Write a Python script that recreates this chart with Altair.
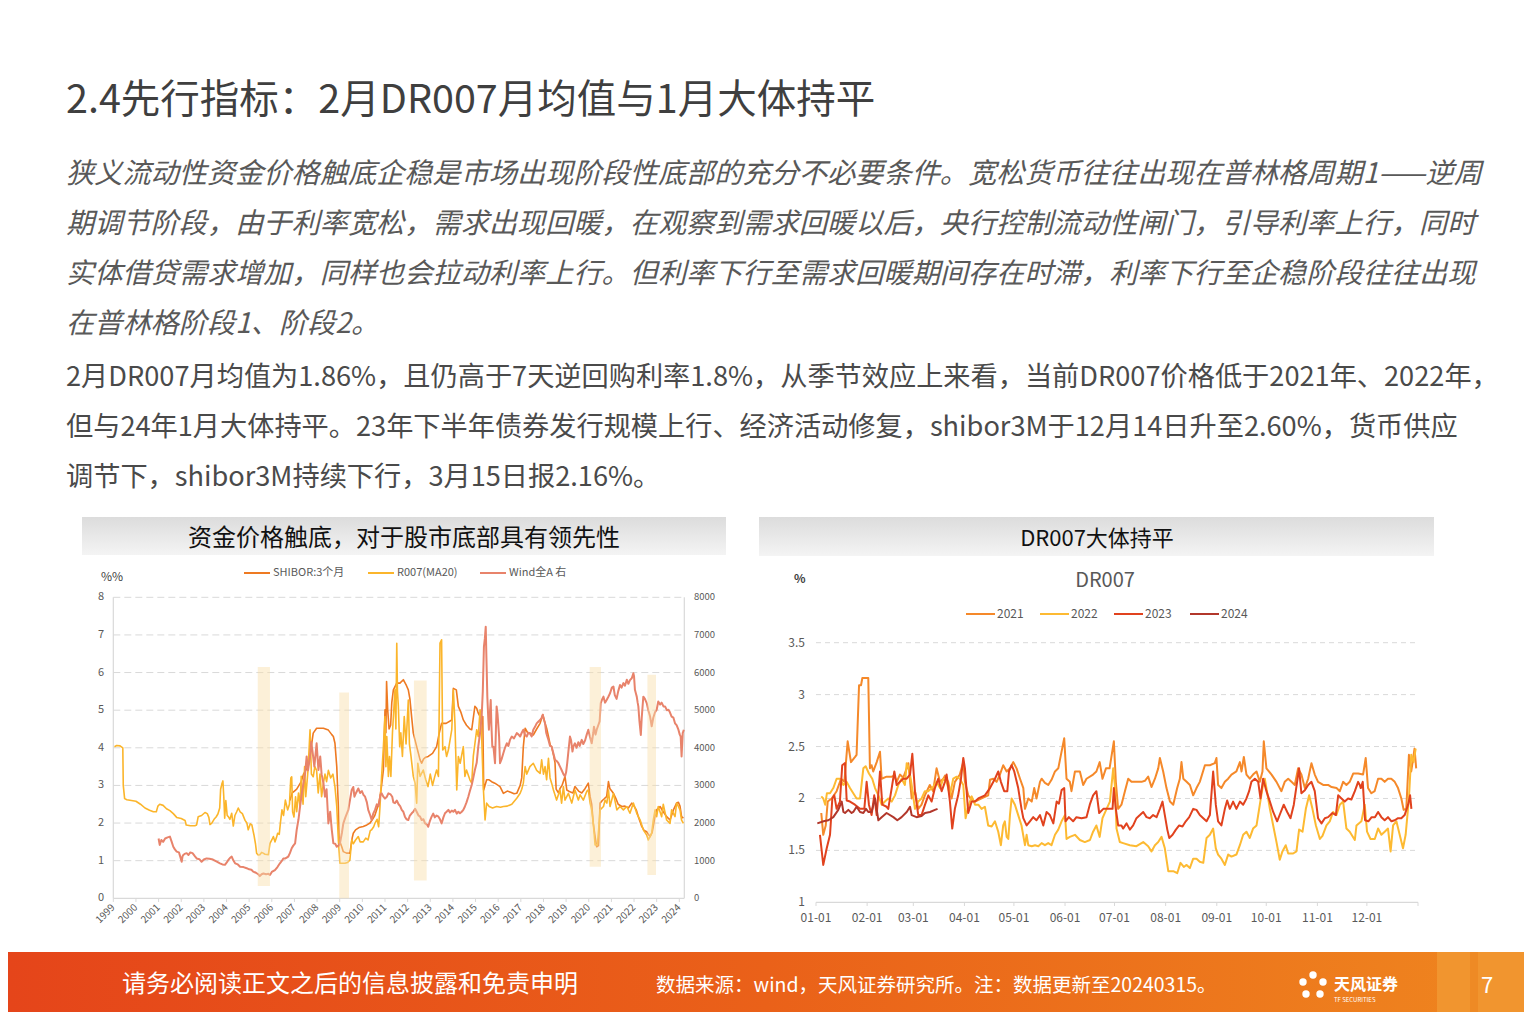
import altair as alt
import pandas as pd

FONT = "Noto Sans CJK SC"
W, H = 1516, 1004
OFF = 8

# ---------------- text ----------------
title_text = "2.4先行指标：2月DR007月均值与1月大体持平"
para1_lines = [
    "狭义流动性资金价格触底企稳是市场出现阶段性底部的充分不必要条件。宽松货币往往出现在普林格周期1——逆周",
    "期调节阶段，由于利率宽松，需求出现回暖，在观察到需求回暖以后，央行控制流动性闸门，引导利率上行，同时",
    "实体借贷需求增加，同样也会拉动利率上行。但利率下行至需求回暖期间存在时滞，利率下行至企稳阶段往往出现",
    "在普林格阶段1、阶段2。",
]
para2_lines = [
    "2月DR007月均值为1.86%，且仍高于7天逆回购利率1.8%，从季节效应上来看，当前DR007价格低于2021年、2022年，",
    "但与24年1月大体持平。23年下半年债券发行规模上行、经济活动修复，shibor3M于12月14日升至2.60%，货币供应",
    "调节下，shibor3M持续下行，3月15日报2.16%。",
]
left_title = "资金价格触底，对于股市底部具有领先性"
right_title = "DR007大体持平"
footer_left = "请务必阅读正文之后的信息披露和免责申明"
footer_src = "数据来源：wind，天风证券研究所。注：数据更新至20240315。"

# ---------------- left chart data ----------------
left_names = ["SHIBOR:3个月", "R007(MA20)", "Wind全A 右"]
year_ticks = list(range(1999, 2025))
pct_ticks = [0, 1, 2, 3, 4, 5, 6, 7, 8]
idx_ticks = [0, 1000, 2000, 3000, 4000, 5000, 6000, 7000, 8000]
shade_start = [2005.38, 2008.98, 2012.28, 2020.04, 2022.59]
shade_end = [2005.92, 2009.41, 2012.84, 2020.54, 2022.97]
shade_top = [6.15, 5.47, 5.79, 6.15, 5.94]
shade_bottom = [0.33, 0.0, 0.47, 0.84, 0.62]

r007 = [(1999.05,4.03),(1999.15,4.06),(1999.3,4.05),(1999.42,4.0),(1999.44,3.0),(1999.5,2.65),(1999.6,2.62),(1999.8,2.6),
(2000.0,2.58),(2000.2,2.5),(2000.4,2.4),(2000.6,2.34),(2000.77,2.3),(2000.9,2.3),(2000.97,2.45),(2001.05,2.5),(2001.2,2.47),
(2001.35,2.38),(2001.5,2.33),(2001.65,2.25),(2001.8,2.15),(2002.0,2.12),(2002.17,2.07),(2002.22,1.95),(2002.4,1.93),(2002.6,1.93),
(2002.68,1.95),(2002.75,2.17),(2002.9,2.2),(2003.05,2.28),(2003.15,2.25),(2003.22,2.15),(2003.27,1.96),(2003.35,2.0),(2003.45,2.1),
(2003.54,2.16),(2003.62,2.24),(2003.7,2.4),(2003.74,2.9),(2003.8,3.05),(2003.84,3.12),(2003.88,2.7),(2003.92,2.13),(2003.97,2.6),
(2004.03,2.2),(2004.08,2.17),(2004.15,2.1),(2004.23,2.26),(2004.3,1.92),(2004.37,2.2),(2004.45,2.3),(2004.52,2.4),(2004.6,2.3),
(2004.7,2.25),(2004.82,2.07),(2004.9,2.0),(2004.96,1.82),(2005.05,1.98),(2005.12,1.95),(2005.21,1.69),(2005.28,1.45),(2005.33,1.2),
(2005.4,1.15),(2005.47,1.16),(2005.55,1.22),(2005.62,1.2),(2005.7,1.17),(2005.85,1.16),(2005.92,1.46),(2006.0,1.55),(2006.07,1.64),
(2006.14,1.5),(2006.2,1.6),(2006.26,1.73),(2006.33,1.7),(2006.38,2.0),(2006.45,2.35),(2006.52,2.2),(2006.6,2.61),(2006.7,2.35),
(2006.78,2.5),(2006.84,3.2),(2006.88,3.23),(2006.92,2.3),(2006.98,2.16),(2007.05,2.7),(2007.1,2.3),(2007.18,2.8),(2007.25,2.44),
(2007.3,3.24),(2007.38,2.5),(2007.45,3.5),(2007.5,2.7),(2007.6,3.4),(2007.69,4.48),(2007.75,3.3),(2007.83,3.23),(2007.9,3.5),
(2007.98,3.4),(2008.05,2.8),(2008.13,3.3),(2008.2,2.7),(2008.28,3.06),(2008.35,3.3),(2008.42,3.1),(2008.5,3.4),(2008.6,3.2),
(2008.7,3.3),(2008.79,2.97),(2008.87,2.44),(2008.94,1.55),(2009.01,0.93),(2009.1,0.93),(2009.23,0.93),(2009.35,0.95),(2009.45,1.02),
(2009.53,1.55),(2009.6,1.45),(2009.7,1.55),(2009.82,1.64),(2009.9,1.5),(2010.04,1.5),(2010.15,1.6),(2010.25,1.55),(2010.35,1.8),
(2010.41,1.82),(2010.5,1.9),(2010.56,2.0),(2010.65,2.1),(2010.72,1.9),(2010.78,2.44),(2010.85,3.24),(2010.93,4.03),(2011.0,4.83),
(2011.04,3.5),(2011.08,4.3),(2011.15,3.24),(2011.2,3.77),(2011.26,3.24),(2011.33,4.4),(2011.44,5.54),(2011.48,4.5),(2011.52,6.78),
(2011.55,5.5),(2011.59,5.1),(2011.65,4.03),(2011.7,4.4),(2011.77,3.77),(2011.85,4.83),(2011.93,4.1),(2012.03,5.27),(2012.08,4.1),
(2012.15,3.77),(2012.25,3.24),(2012.33,3.06),(2012.4,2.53),(2012.45,3.59),(2012.55,3.24),(2012.69,3.41),(2012.8,3.15),(2012.9,2.97),
(2013.0,3.3),(2013.1,3.0),(2013.2,3.24),(2013.28,3.41),(2013.36,3.24),(2013.43,6.78),(2013.5,6.87),(2013.55,3.94),(2013.65,4.03),
(2013.72,3.77),(2013.8,3.94),(2013.95,4.48),(2014.02,5.54),(2014.09,4.65),(2014.17,2.88),(2014.24,3.77),(2014.32,3.59),(2014.46,4.03),
(2014.53,3.24),(2014.6,3.41),(2014.75,3.15),(2014.83,3.06),(2014.9,3.77),(2015.05,4.48),(2015.12,4.3),(2015.2,5.01),(2015.27,4.3),
(2015.34,2.97),(2015.42,2.08),(2015.49,2.53),(2015.6,2.44),(2015.75,2.4),(2015.93,2.44),(2016.1,2.42),(2016.23,2.44),(2016.4,2.45),
(2016.6,2.5),(2016.82,2.66),(2016.97,2.79),(2017.04,2.9),(2017.11,3.06),(2017.19,3.5),(2017.26,3.3),(2017.4,3.5),(2017.55,3.59),
(2017.7,3.4),(2017.85,3.32),(2017.92,3.68),(2018.0,3.3),(2018.07,3.5),(2018.14,3.15),(2018.22,3.72),(2018.29,3.2),(2018.36,3.06),
(2018.44,2.88),(2018.58,2.61),(2018.73,2.88),(2018.8,2.53),(2018.88,2.97),(2018.95,2.61),(2019.1,2.79),(2019.25,2.53),(2019.39,2.88),
(2019.54,2.61),(2019.62,2.75),(2019.76,2.61),(2019.91,2.84),(2019.98,2.88),(2020.06,2.53),(2020.13,2.35),(2020.2,1.99),(2020.28,1.42),
(2020.38,1.42),(2020.46,1.99),(2020.5,2.35),(2020.65,2.44),(2020.72,2.61),(2020.8,2.53),(2020.87,2.88),(2020.94,2.44),(2021.09,2.79),
(2021.24,2.35),(2021.38,2.44),(2021.53,2.35),(2021.68,2.44),(2021.82,2.26),(2021.97,2.53),(2022.12,2.26),(2022.27,2.08),(2022.41,1.82),
(2022.56,1.68),(2022.63,1.55),(2022.78,1.73),(2022.85,2.08),(2022.93,2.35),(2023.0,2.17),(2023.07,2.44),(2023.22,2.17),(2023.29,2.5),
(2023.44,2.08),(2023.59,1.99),(2023.66,2.35),(2023.81,2.17),(2023.88,2.53),(2023.96,2.44),(2024.03,2.35),(2024.1,2.08),(2024.18,1.99)]

shibor = [(2006.8,2.6),(2006.9,2.8),(2007.0,2.85),(2007.1,2.9),(2007.2,3.0),(2007.3,3.1),(2007.4,3.3),(2007.5,3.4),(2007.6,3.5),
(2007.69,3.77),(2007.76,4.1),(2007.83,4.39),(2007.98,4.52),(2008.1,4.52),(2008.28,4.52),(2008.5,4.47),(2008.65,4.35),(2008.72,4.3),
(2008.79,4.12),(2008.87,3.5),(2008.94,2.44),(2008.98,1.55),(2009.09,1.37),(2009.16,1.24),(2009.3,1.2),(2009.45,1.2),(2009.55,1.6),
(2009.6,1.73),(2009.7,1.82),(2009.85,1.88),(2010.04,1.91),(2010.2,1.95),(2010.34,2.0),(2010.45,2.1),(2010.55,2.2),(2010.63,2.35),
(2010.72,2.5),(2010.78,2.7),(2010.85,3.0),(2010.93,3.41),(2011.0,5.01),(2011.04,4.4),(2011.07,5.76),(2011.12,5.0),(2011.18,4.5),
(2011.25,4.6),(2011.3,5.2),(2011.37,5.54),(2011.52,5.72),(2011.66,5.72),(2011.81,5.81),(2011.95,5.65),(2012.03,5.54),(2012.1,5.3),
(2012.18,4.8),(2012.25,4.39),(2012.4,4.03),(2012.55,3.68),(2012.62,3.59),(2012.7,3.7),(2012.8,3.75),(2012.91,3.77),(2013.1,3.85),
(2013.28,4.03),(2013.4,4.4),(2013.5,4.65),(2013.7,4.65),(2013.95,4.74),(2014.02,5.58),(2014.15,5.54),(2014.24,5.1),(2014.35,4.95),
(2014.46,4.74),(2014.6,4.6),(2014.75,4.5),(2014.83,4.48),(2014.97,5.1),(2015.05,5.05),(2015.12,4.92),(2015.2,4.83),(2015.32,4.83),
(2015.36,2.88),(2015.49,3.15),(2015.6,3.15),(2015.71,3.1),(2015.85,3.06),(2016.0,3.0),(2016.08,2.97),(2016.23,2.79),(2016.4,2.85),
(2016.55,2.82),(2016.7,2.78),(2016.82,2.79),(2016.97,3.0),(2017.04,3.2),(2017.11,4.03),(2017.19,4.52),(2017.3,4.4),(2017.41,4.39),
(2017.55,4.34),(2017.7,4.5),(2017.85,4.65),(2017.97,4.88),(2018.07,4.65),(2018.14,4.52),(2018.22,4.3),(2018.3,4.07),(2018.36,4.03),
(2018.44,3.81),(2018.51,3.6),(2018.56,2.9),(2018.66,2.8),(2018.73,2.92),(2018.82,3.0),(2018.95,3.24),(2019.03,2.88),(2019.17,2.83),
(2019.3,2.8),(2019.39,2.97),(2019.55,2.85),(2019.69,2.8),(2019.84,2.92),(2019.98,3.06),(2020.06,2.7),(2020.13,2.5),(2020.2,1.99),
(2020.28,1.64),(2020.35,1.37),(2020.43,1.4),(2020.5,2.53),(2020.6,2.6),(2020.71,2.66),(2020.79,2.7),(2020.87,3.1),(2020.93,2.92),
(2021.09,2.79),(2021.2,2.65),(2021.3,2.5),(2021.46,2.44),(2021.6,2.45),(2021.75,2.4),(2021.9,2.53),(2022.0,2.45),(2022.1,2.35),
(2022.19,2.17),(2022.34,1.91),(2022.45,1.8),(2022.56,1.77),(2022.63,1.7),(2022.71,1.64),(2022.8,1.75),(2022.85,1.91),(2022.93,2.2),
(2023.0,2.35),(2023.15,2.44),(2023.29,2.3),(2023.44,2.17),(2023.59,2.08),(2023.74,2.35),(2023.88,2.53),(2023.96,2.55),(2024.03,2.45),
(2024.1,2.17),(2024.18,2.13)]

wind_a = [(2001.0,1590),(2001.05,1420),(2001.12,1550),(2001.2,1500),(2001.29,1590),(2001.4,1620),(2001.5,1640),(2001.58,1500),
(2001.65,1370),(2001.72,1300),(2001.8,1240),(2001.9,1220),(2001.96,1100),(2002.02,970),(2002.06,1120),(2002.09,1150),(2002.15,1180),
(2002.24,1200),(2002.32,1150),(2002.4,1220),(2002.5,1200),(2002.6,1120),(2002.68,1060),(2002.8,1040),(2002.9,970),(2003.0,1030),
(2003.12,1060),(2003.25,1050),(2003.4,1030),(2003.55,980),(2003.71,930),(2003.82,900),(2003.93,890),(2004.02,960),(2004.08,1020),
(2004.15,1070),(2004.23,1110),(2004.3,1010),(2004.38,930),(2004.5,900),(2004.6,840),(2004.75,830),(2004.89,800),(2005.0,770),
(2005.1,760),(2005.18,710),(2005.3,680),(2005.4,640),(2005.47,590),(2005.55,640),(2005.63,660),(2005.75,640),(2005.85,650),
(2005.92,620),(2006.0,700),(2006.14,750),(2006.25,830),(2006.36,930),(2006.45,1000),(2006.51,1060),(2006.6,1060),(2006.73,1110),
(2006.8,1200),(2006.88,1330),(2006.95,1400),(2007.03,1460),(2007.1,1820),(2007.18,2100),(2007.25,2440),(2007.33,2800),(2007.4,3060),
(2007.47,3300),(2007.54,3770),(2007.6,3400),(2007.69,3770),(2007.74,4160),(2007.8,3900),(2007.88,3500),(2007.98,4120),(2008.06,3410),
(2008.14,3770),(2008.2,3300),(2008.28,3060),(2008.35,2700),(2008.42,2900),(2008.5,1990),(2008.58,2300),(2008.65,1820),(2008.72,1460),
(2008.8,1450),(2008.87,1370),(2008.95,1400),(2009.01,1460),(2009.1,1750),(2009.16,1990),(2009.25,2150),(2009.38,2350),(2009.45,2600),
(2009.53,2880),(2009.6,2960),(2009.65,2700),(2009.72,2800),(2009.82,2920),(2009.9,2800),(2009.98,2850),(2010.05,2750),(2010.12,2700),
(2010.2,2550),(2010.26,2350),(2010.35,2200),(2010.41,2080),(2010.48,2250),(2010.56,2350),(2010.64,2500),(2010.72,2450),(2010.8,2750),
(2010.85,2790),(2010.93,2700),(2011.0,2650),(2011.08,2700),(2011.15,2790),(2011.25,2760),(2011.32,2700),(2011.37,2550),(2011.44,2530),
(2011.52,2600),(2011.6,2500),(2011.67,2450),(2011.74,2350),(2011.81,2300),(2011.88,2170),(2011.95,2100),(2012.03,2080),(2012.1,2200),
(2012.18,2260),(2012.25,2300),(2012.33,2380),(2012.4,2300),(2012.48,2200),(2012.55,2170),(2012.62,2080),(2012.7,2100),(2012.77,1990),
(2012.85,1960),(2012.91,1900),(2012.98,2050),(2013.06,2170),(2013.13,2250),(2013.2,2150),(2013.28,2200),(2013.36,2170),(2013.43,2100),
(2013.5,1990),(2013.58,2150),(2013.65,2260),(2013.72,2300),(2013.8,2350),(2013.87,2280),(2013.95,2330),(2014.02,2300),(2014.09,2350),
(2014.17,2250),(2014.24,2300),(2014.31,2260),(2014.39,2300),(2014.46,2350),(2014.53,2440),(2014.6,2550),(2014.68,2700),(2014.75,2850),
(2014.83,3010),(2014.9,3200),(2014.97,3410),(2015.05,3600),(2015.12,4030),(2015.2,4400),(2015.27,4830),(2015.32,5500),(2015.37,6690),
(2015.41,6900),(2015.45,7220),(2015.48,6400),(2015.52,5360),(2015.56,4800),(2015.59,4480),(2015.63,4900),(2015.67,5270),(2015.7,4600),
(2015.74,4030),(2015.79,4030),(2015.86,3590),(2015.9,4500),(2015.93,5100),(2015.97,4900),(2016.0,4650),(2016.04,4300),(2016.08,3590),
(2016.15,3700),(2016.23,3860),(2016.3,4000),(2016.38,4120),(2016.45,4050),(2016.52,4210),(2016.6,4300),(2016.7,4250),(2016.82,4390),
(2016.9,4350),(2016.97,4300),(2017.04,4400),(2017.11,4480),(2017.18,4350),(2017.26,4300),(2017.33,4400),(2017.4,4380),(2017.48,4300),
(2017.55,4480),(2017.62,4550),(2017.7,4650),(2017.78,4700),(2017.85,4740),(2017.92,4800),(2017.97,4880),(2018.02,4750),(2018.07,4650),
(2018.12,4400),(2018.17,4300),(2018.22,4210),(2018.29,4050),(2018.36,4030),(2018.44,3850),(2018.51,3680),(2018.58,3650),(2018.66,3590),
(2018.73,3500),(2018.8,3410),(2018.88,3300),(2018.95,3240),(2019.0,3350),(2019.05,3600),(2019.1,3900),(2019.17,4300),(2019.22,4200),
(2019.28,3900),(2019.33,4050),(2019.39,4120),(2019.46,4000),(2019.54,4150),(2019.6,4050),(2019.69,4210),(2019.76,4100),(2019.84,4200),
(2019.91,4350),(2019.98,4480),(2020.05,4300),(2020.13,4120),(2020.2,4400),(2020.23,4560),(2020.3,4350),(2020.35,4480),(2020.42,4600),
(2020.48,4700),(2020.53,5190),(2020.6,5300),(2020.65,5360),(2020.72,5200),(2020.79,5270),(2020.86,5350),(2020.94,5450),(2021.02,5600),
(2021.09,5630),(2021.15,5400),(2021.23,5300),(2021.3,5500),(2021.38,5670),(2021.45,5600),(2021.53,5720),(2021.6,5650),(2021.68,5810),
(2021.75,5700),(2021.82,5800),(2021.9,5850),(2021.97,5980),(2022.0,5900),(2022.04,5540),(2022.08,5450),(2022.12,5360),(2022.16,5200),
(2022.19,5100),(2022.24,4700),(2022.3,4340),(2022.34,4800),(2022.41,5360),(2022.48,5300),(2022.56,5190),(2022.63,5000),(2022.71,4830),
(2022.78,4570),(2022.85,4800),(2022.93,4950),(2023.0,5010),(2023.07,5230),(2023.15,5150),(2023.22,5200),(2023.3,5100),(2023.37,5100),
(2023.45,5000),(2023.52,5010),(2023.58,4950),(2023.66,4830),(2023.74,4800),(2023.81,4650),(2023.88,4600),(2023.96,4480),(2024.02,4350),
(2024.06,4300),(2024.1,3770),(2024.15,4390),(2024.2,4480)]

# ---------------- right chart data (day of year, DR007 %) ----------------
dr_years = ["2021", "2022", "2023", "2024"]
month_days = [0, 31, 59, 90, 120, 151, 181, 212, 243, 273, 304, 334]
month_labels = ["01-01", "02-01", "03-01", "04-01", "05-01", "06-01", "07-01", "08-01", "09-01", "10-01", "11-01", "12-01"]
dr_ticks = [1, 1.5, 2, 2.5, 3, 3.5]
dr_tick_labels = ["1", "1.5", "2", "2.5", "3", "3.5"]

dr2021 = [(3.2,1.86),(4.4,1.65),(5.9,1.74),(7.1,1.97),(9.5,2.0),(12.5,2.07),(15.2,2.19),(17.2,2.16),(19.2,2.55),(21.2,2.35),
(23.7,2.40),(24.6,2.42),(26.1,3.09),(27.3,3.09),(28.1,3.16),(31.7,3.16),(32.7,2.29),(33.7,2.32),(34.7,2.26),(36.8,2.35),(38.8,2.45),
(39.8,2.19),(42.8,2.21),(45.9,2.21),(47.5,2.22),(48.9,2.16),(50.9,2.23),(52.9,2.2),(55,2.29),(56,2.34),(58,2.0),(60,2.07),(62,1.9),
(64,1.94),(66,2.03),(69,2.13),(71,2.07),(73.1,2.29),(75.2,2.16),(77.2,2.19),(78.2,2.22),(80.2,2.16),(82.2,2.0),(84.2,2.16),(87.2,2.23),
(89.3,2.35),(90.3,2.16),(92.3,2.03),(94.4,1.99),(96.4,1.97),(100.4,2.0),(104.4,2.03),(105.5,2.18),(107.5,2.19),(109.5,2.16),(111.5,2.23),
(113.5,2.32),(115.6,2.26),(117.6,2.29),(119.6,2.35),(121.6,2.29),(123.7,2.19),(125.7,2.1),(126.7,1.9),(128.7,2.0),(130.8,1.97),
(132.3,2.1),(133.7,2.0),(135.8,2.16),(136.8,2.19),(138.8,2.15),(140.8,2.13),(142.8,2.18),(144.9,2.26),(146.9,2.29),(148.5,2.42),
(150.5,2.58),(151.9,2.19),(153.9,2.16),(154.9,2.07),(157,2.26),(160,2.26),(162,2.13),(164,2.19),(168,2.23),(170,2.26),(172,2.35),
(173.7,2.19),(175.8,2.29),(178,2.29),(179,2.39),(180.6,2.55),(181.8,2.16),(183.2,1.9),(185.2,1.94),(187.3,2.07),(189.3,2.19),
(191.3,2.16),(194.3,2.16),(197.4,2.16),(199.4,2.17),(201.4,2.21),(203.4,2.11),(205.5,2.19),(207.5,2.29),(208.5,2.39),(210.5,2.26),
(212.5,2.1),(214.6,1.97),(216.6,1.94),(219,2.1),(220.6,2.19),(221.6,2.35),(222.7,2.19),(224.7,2.16),(226.7,2.13),(228.7,2.03),
(230.7,2.1),(232.7,2.16),(235.8,2.32),(238.8,2.32),(241.8,2.34),(242.8,2.39),(243.8,2.13),(245.8,2.1),(247.9,2.16),(249.9,2.19),
(251.9,2.23),(254.9,2.26),(257,2.35),(258,2.26),(259.4,2.40),(261,2.23),(263,2.19),(265,2.23),(267.1,2.26),(269.1,2.16),(270.7,2.26),
(271.5,2.55),(273.1,2.29),(276.2,2.23),(279.2,2.16),(282.2,2.07),(284.2,2.16),(286.3,2.19),(288.3,2.16),(290.3,2.13),(292.3,2.29),
(294.3,2.23),(296.4,2.1),(298.4,2.19),(300.4,2.34),(302.4,2.23),(304.4,2.16),(307.5,2.13),(310.5,2.13),(312.6,2.11),(315.6,2.1),
(317.6,2.07),(319.6,2.16),(321.6,2.13),(323.6,2.16),(325.7,2.24),(328.7,2.24),(331.7,2.23),(333.3,2.39),(334.7,2.1),(336.7,2.05),
(338.7,2.07),(340.8,2.19),(342.8,2.19),(344.8,2.16),(346.8,2.19),(348.8,2.19),(350.9,2.16),(352.9,2.1),(354.9,2.0),(356.3,1.89),
(357.9,1.9),(359.5,2.42),(360.9,2.26),(362.9,2.48),(363.9,2.29)]

dr2022 = [(3.2,2.02),(4.4,2.0),(5.6,1.94),(6.6,2.05),(8.5,2.05),(10.5,2.1),(12.5,2.19),(14.5,2.19),(16.6,2.13),(18.6,2.16),(20.6,2.1),
(22.6,2.05),(24.6,2.0),(26.7,2.0),(28.7,2.29),(30.1,2.31),(32.1,2.24),(34.1,2.19),(35.8,2.1),(37.8,2.03),(39.8,1.94),(41.8,1.97),
(43.8,2.0),(45.9,1.97),(47.9,2.03),(49.9,2.13),(51.9,2.19),(53.9,2.13),(55,2.34),(56.4,2.29),(58,2.13),(60,1.9),(62,1.97),(64,2.0),
(66,2.07),(68,2.07),(71,2.11),(73,2.16),(75.2,2.1),(77.2,2.19),(79.2,2.16),(81.2,2.03),(83.2,2.19),(85.3,2.21),(87.2,2.19),(89.3,2.13),
(90.7,1.81),(91.9,1.9),(94.4,2.02),(96.4,1.94),(98.4,1.94),(100.4,1.9),(102.4,1.92),(104.4,1.74),(106.5,1.73),(108.5,1.78),(110.5,1.68),
(112.1,1.55),(113.5,1.74),(114.5,1.78),(115.6,1.63),(116.6,1.61),(117.6,1.84),(118.6,2.0),(120.6,1.94),(122.6,1.84),(124.6,1.74),
(126.7,1.55),(127.7,1.65),(128.7,1.55),(130.8,1.54),(132.8,1.55),(134.8,1.54),(136.8,1.57),(138.8,1.55),(140.8,1.57),(142.8,1.55),
(144.9,1.65),(146.9,1.7),(148.9,1.78),(151,1.84),(151.9,1.61),(153.9,1.63),(157,1.65),(160,1.6),(163,1.58),(166.1,1.6),(168,1.68),
(170,1.74),(172,1.63),(173.7,1.81),(176.2,1.9),(178.2,1.97),(180.2,2.29),(181.2,2.13),(182.2,1.71),(184.2,1.58),(186.2,1.57),
(190.3,1.55),(194.3,1.54),(198.4,1.58),(201.4,1.54),(203.4,1.49),(205.5,1.55),(207.5,1.58),(209.5,1.63),(211.5,1.52),(213.6,1.3),
(216.6,1.3),(219,1.28),(221,1.38),(223,1.34),(224.7,1.36),(226.7,1.33),(228.7,1.42),(230.7,1.42),(232.7,1.39),(234.8,1.38),(236.8,1.62),
(238.8,1.65),(240.8,1.71),(242.4,1.52),(243.8,1.46),(245.8,1.42),(247.9,1.36),(249.9,1.46),(251.9,1.44),(254.9,1.46),(257,1.55),
(259,1.65),(261,1.68),(263,1.62),(265,1.71),(267.1,1.74),(269.1,1.94),(270.7,2.1),(272.1,2.19),(273.1,2.1),(275.2,1.9),(277.2,1.74),
(279.2,1.58),(281.2,1.41),(282.8,1.49),(284.8,1.55),(286.3,1.47),(289.3,1.47),(291.3,1.49),(292.9,1.7),(295,1.68),(297,1.9),(299,2.03),
(301,1.9),(303.1,1.74),(305.5,1.61),(307.1,1.64),(309.5,1.74),(311.5,1.78),(313.5,1.87),(315.5,1.84),(317.6,1.94),(319.6,1.97),
(321.6,1.71),(323.6,1.68),(326.7,1.6),(327.7,1.74),(330.7,1.78),(332.7,1.94),(334.1,1.68),(336.2,1.61),(338.8,1.61),(340.8,1.71),
(342.8,1.65),(344.8,1.68),(346.8,1.71),(348.4,1.49),(349.9,1.74),(351.9,1.78),(353.9,1.65),(355.9,1.52),(357.5,1.65),(359.5,2.0),
(360.9,2.42),(362.3,2.35),(363.6,2.48)]

dr2023 = [(2.4,1.65),(4.4,1.36),(6.5,1.52),(8.5,1.65),(9.9,2.0),(11.1,2.03),(12.5,1.9),(14.5,1.97),(15.9,2.32),(17.6,2.34),(18.6,1.98),
(20.6,1.97),(23.6,1.94),(26.7,1.9),(29.3,1.9),(30.7,2.16),(32.1,1.94),(33.7,1.84),(35.3,2.03),(36.8,1.84),(38.8,2.26),(40.2,1.94),
(42.8,1.92),(43.8,1.9),(45.9,2.1),(47.5,2.26),(48.9,2.13),(50.9,2.16),(52.9,2.19),(55,2.19),(57,2.23),(58.4,2.43),(60,2.07),(62,1.84),
(64,1.84),(66.1,1.94),(68.1,2.03),(70.1,1.97),(72.1,2.1),(74.1,2.19),(76.2,2.07),(78.2,2.16),(79.2,2.23),(81.2,1.97),(82.6,1.71),
(84.2,1.9),(86.2,2.03),(87.9,2.19),(89.3,2.39),(90.3,2.29),(92.3,1.86),(94.4,1.97),(96.4,1.97),(98.4,2.0),(102.4,2.03),(105.5,2.1),
(108.5,2.19),(110.5,2.26),(112.1,2.16),(114.1,2.07),(116,2.07),(117,2.26),(118.6,2.32),(120.2,2.26),(122.6,2.1),(124.6,1.9),(125.7,1.81),
(127.7,1.74),(129.7,1.78),(131.7,1.82),(133.7,1.79),(135.8,1.84),(137.8,1.74),(139.8,1.87),(141.8,1.84),(143.9,1.76),(145.9,1.97),
(147.3,1.95),(148.9,2.08),(150.5,2.1),(151.3,1.78),(153.3,1.82),(155.9,1.78),(157.9,1.82),(161,1.81),(164,1.82),(166,1.94),(168,2.03),
(170,2.07),(171.7,1.86),(174.2,1.9),(176.2,1.9),(178.2,1.9),(179.8,1.9),(180.6,2.1),(181.8,1.9),(183.2,1.74),(185.2,1.74),(186.2,1.71),
(188.3,1.76),(190.3,1.7),(192.3,1.74),(194.3,1.81),(196.4,1.84),(198.4,1.87),(200.4,1.82),(202.4,1.81),(204.4,1.84),(206.5,1.82),
(208.5,1.9),(210.1,1.97),(211.5,1.84),(213,1.7),(214.2,1.62),(216.2,1.65),(218.2,1.7),(220.2,1.74),(222.2,1.73),(224.2,1.78),(226.3,1.82),
(228.7,1.9),(230.7,1.89),(232.7,1.84),(234.8,1.81),(236.8,1.78),(238.8,1.84),(240.8,2.26),(242.4,1.94),(243.8,1.78),(245.8,1.74),
(247.9,1.9),(249.3,1.98),(250.9,1.9),(252.9,1.97),(254.9,1.9),(257,1.97),(259,1.94),(261,2.0),(262.6,2.07),(264,2.16),(266.1,2.19),
(268.1,2.16),(269.5,2.0),(271.1,2.19),(273.1,2.07),(275.2,1.97),(277.2,1.87),(279.6,1.78),(281.6,1.86),(283.6,1.94),(285.7,1.87),
(287.7,1.81),(289.7,1.94),(291.7,2.16),(292.9,2.29),(294.3,2.05),(296.4,2.08),(298.4,2.13),(300.4,2.16),(302.4,2.07),(304.4,1.81),
(306.5,1.76),(308.5,1.81),(310.5,1.82),(313.1,1.86),(315.2,1.84),(316.6,2.03),(318.6,2.0),(320.6,1.97),(322.6,2.0),(324.6,1.99),
(326.7,2.07),(328.7,2.16),(329.7,2.13),(330.3,2.1),(331.5,2.16),(332.9,1.79),(334.9,1.78),(336.9,1.82),(338.9,1.82),(340.8,1.87),
(342.8,1.82),(344.8,1.79),(346.8,1.82),(348.9,1.78),(350.9,1.79),(352.9,1.81),(354.9,1.81),(356.9,1.84),(359,1.94),(360.2,2.03),(361,1.9)]

dr2024 = [(0.8,1.76),(4.6,1.78),(7.5,1.79),(10.5,1.82),(13.5,1.89),(15.6,1.97),(16.6,1.87),(17.6,1.86),(19.6,1.89),(21.6,1.86),
(22.6,1.87),(24.6,1.92),(26.7,1.87),(28.7,1.86),(30.3,1.9),(31.7,1.87),(33.7,1.87),(35.8,2.0),(37.8,1.79),(39.8,1.82),(42.8,1.86),
(46.9,1.82),(49.3,1.79),(51.9,1.82),(55,1.87),(57,1.92),(58,1.84),(61,1.82),(64,1.83),(66.1,1.86),(69.1,1.87),(72.1,1.89),(73.7,1.9)]

# ---------------- colors ----------------
C_SHIBOR = "#EE7A22"
C_R007 = "#FBB52B"
C_WIND = "#E8836B"
C_DR = ["#F5892A", "#FDBA32", "#E1421E", "#B2372B"]
GRID = "#D9D9D9"
LAB = "#595959"

# ---------------- helpers ----------------
def one():
    return pd.DataFrame({"k": [0]})

def T(s, x, y, size, color=LAB, align="left", baseline="middle", weight="normal", style="normal", angle=0):
    return alt.Chart(pd.DataFrame({"t": [s]})).mark_text(
        align=align, baseline=baseline, fontSize=size, color=color, font=FONT,
        fontWeight=weight, fontStyle=style, angle=angle
    ).encode(x=alt.value(x - OFF), y=alt.value(y - OFF), text="t:N")

def RECT(x1, x2, y1, y2, fill, opacity=1.0):
    return alt.Chart(one()).mark_rect(fill=fill, opacity=opacity).encode(
        x=alt.value(x1 - OFF), x2=alt.value(x2 - OFF), y=alt.value(y1 - OFF), y2=alt.value(y2 - OFF))

def SEG(x1, x2, y1, y2, color, width=1.0):
    return alt.Chart(one()).mark_rule(color=color, strokeWidth=width).encode(
        x=alt.value(x1 - OFF), x2=alt.value(x2 - OFF), y=alt.value(y1 - OFF), y2=alt.value(y2 - OFF))

def pairs_df(pairs):
    return pd.DataFrame({"t": [p[0] for p in pairs], "v": [p[1] for p in pairs]})

def line(pairs, color, xs, ys, width):
    return alt.Chart(pairs_df(pairs)).mark_line(color=color, strokeWidth=width, strokeJoin="round").encode(
        x=alt.X("t:Q", scale=xs, axis=None), y=alt.Y("v:Q", scale=ys, axis=None))

layers = []

# ---------------- header text ----------------
layers.append(T(title_text, 66, 101, 39.5, color="#3F3F3F"))
for i, s in enumerate(para1_lines):
    layers.append(T(s, 66, 175 + 50 * i, 28.2, color="#595959", style="italic"))
for i, s in enumerate(para2_lines):
    layers.append(T(s, 66, 378 + 50 * i, 27.2, color="#4A4A4A"))

# ---------------- title bars ----------------
bar_grad = alt.LinearGradient(gradient="linear",
    stops=[alt.GradientStop(color="#DCDCDC", offset=0), alt.GradientStop(color="#F4F4F4", offset=1)],
    x1=0, x2=0, y1=0, y2=1)
layers.append(RECT(82, 726, 517, 555, bar_grad))
layers.append(RECT(759, 1434, 517, 556, bar_grad))
layers.append(T(left_title, 404, 539, 24, color="#111111", align="center"))
layers.append(T(right_title, 1097, 539, 22, color="#111111", align="center"))

# ---------------- left chart ----------------
xL = alt.Scale(domain=[1999, 2024.22], range=[113.3 - OFF, 684.3 - OFF], nice=False, zero=False)
yL = alt.Scale(domain=[0, 8], range=[898.3 - OFF, 597.3 - OFF], nice=False, zero=False)
yLR = alt.Scale(domain=[0, 8000], range=[898.3 - OFF, 597.3 - OFF], nice=False, zero=False)

grid_df = pd.DataFrame({"v": pct_ticks[1:]})
layers.append(alt.Chart(grid_df).mark_rule(color=GRID, strokeDash=[7, 4], strokeWidth=1).encode(
    y=alt.Y("v:Q", scale=yL, axis=None), x=alt.value(113.3 - OFF), x2=alt.value(684.3 - OFF)))
layers.append(SEG(113.3, 684.3, 898.3, 898.3, GRID, 1.2))
layers.append(SEG(113.3, 113.3, 597.3, 898.3, GRID, 1.2))
layers.append(SEG(684.3, 684.3, 597.3, 898.3, GRID, 1.2))
yt_df = pd.DataFrame({"yr": year_ticks})
layers.append(alt.Chart(yt_df).mark_rule(color=GRID, strokeWidth=1).encode(
    x=alt.X("yr:Q", scale=xL, axis=None), y=alt.value(898.3 - OFF), y2=alt.value(902 - OFF)))
layers.append(alt.Chart(pd.DataFrame({"v": pct_ticks, "lab": [str(v) for v in pct_ticks]})).mark_text(
    align="right", baseline="middle", fontSize=11, color=LAB, font=FONT).encode(
    y=alt.Y("v:Q", scale=yL, axis=None), x=alt.value(104 - OFF), text="lab:N"))
layers.append(alt.Chart(pd.DataFrame({"v": idx_ticks, "lab": [str(v) for v in idx_ticks]})).mark_text(
    align="left", baseline="middle", fontSize=9.5, color=LAB, font=FONT).encode(
    y=alt.Y("v:Q", scale=yLR, axis=None), x=alt.value(694 - OFF), text="lab:N"))
layers.append(alt.Chart(pd.DataFrame({"yr": year_ticks, "lab": [str(y) for y in year_ticks]})).mark_text(
    align="right", baseline="middle", fontSize=10, color=LAB, font=FONT, angle=315).encode(
    x=alt.X("yr:Q", scale=xL, axis=None), y=alt.value(906 - OFF), text="lab:N"))

layers.append(line(shibor, C_SHIBOR, xL, yL, 1.6))
layers.append(line(r007, C_R007, xL, yL, 1.6))
layers.append(line(wind_a, C_WIND, xL, yLR, 2.0))

shade_df = pd.DataFrame({"s": shade_start, "e": shade_end, "top": shade_top, "bot": shade_bottom})
layers.append(alt.Chart(shade_df).mark_rect(color="#F8DEA8", opacity=0.45).encode(
    x=alt.X("s:Q", scale=xL, axis=None), x2="e:Q",
    y=alt.Y("top:Q", scale=yL, axis=None), y2="bot:Q"))

# legend (left)
layers.append(T("%%", 101, 577, 12, color="#404040"))
leg_x = [244, 368, 480]
for name, col, lx in zip(left_names, [C_SHIBOR, C_R007, C_WIND], leg_x):
    layers.append(SEG(lx, lx + 26, 573, 573, col, 2))
    layers.append(T(name, lx + 29, 573, 11, color=LAB))

# ---------------- right chart ----------------
xR = alt.Scale(domain=[0, 365], range=[816 - OFF, 1418 - OFF], nice=False, zero=False)
yR = alt.Scale(domain=[1, 3.5], range=[902.3 - OFF, 642.7 - OFF], nice=False, zero=False)

layers.append(alt.Chart(pd.DataFrame({"v": dr_ticks[1:]})).mark_rule(color=GRID, strokeDash=[5, 4], strokeWidth=1).encode(
    y=alt.Y("v:Q", scale=yR, axis=None), x=alt.value(816 - OFF), x2=alt.value(1416 - OFF)))
layers.append(SEG(816, 1418, 902.3, 902.3, GRID, 1.2))
layers.append(alt.Chart(pd.DataFrame({"d": month_days + [365]})).mark_rule(color=GRID, strokeWidth=1).encode(
    x=alt.X("d:Q", scale=xR, axis=None), y=alt.value(902.3 - OFF), y2=alt.value(906 - OFF)))
layers.append(alt.Chart(pd.DataFrame({"d": month_days, "lab": month_labels})).mark_text(
    align="center", baseline="middle", fontSize=12, color=LAB, font=FONT).encode(
    x=alt.X("d:Q", scale=xR, axis=None), y=alt.value(918 - OFF), text="lab:N"))
layers.append(alt.Chart(pd.DataFrame({"v": dr_ticks, "lab": dr_tick_labels})).mark_text(
    align="right", baseline="middle", fontSize=12, color=LAB, font=FONT).encode(
    y=alt.Y("v:Q", scale=yR, axis=None), x=alt.value(805 - OFF), text="lab:N"))

for pairs, col in zip([dr2021, dr2022, dr2023, dr2024], C_DR):
    layers.append(line(pairs, col, xR, yR, 2.0))

layers.append(T("%", 794, 579, 12, color="#404040", weight="bold"))
layers.append(T("DR007", 1105, 581, 20, color="#595959", align="center"))
leg_rx = [966, 1040, 1114, 1190]
for name, col, lx in zip(dr_years, C_DR, leg_rx):
    layers.append(SEG(lx, lx + 29, 614, 614, col, 2))
    layers.append(T(name, lx + 31, 614, 12, color=LAB))

# ---------------- footer ----------------
foot_grad = alt.LinearGradient(gradient="linear",
    stops=[alt.GradientStop(color="#E5451A", offset=0), alt.GradientStop(color="#EA6119", offset=0.5),
           alt.GradientStop(color="#EF861F", offset=1)],
    x1=0, x2=1, y1=0, y2=0)
layers.append(RECT(8, 1524, 952, 1012, foot_grad))
layers.append(RECT(1437, 1524, 952, 1012, "#F1952F"))
layers.append(RECT(1470, 1478, 952, 1012, "#EE8A25"))
layers.append(T(footer_left, 122, 985, 24, color="#FFFFFF"))
layers.append(T(footer_src, 656, 986, 19.5, color="#FFFFFF"))
logo_df = pd.DataFrame({"k": [0]})
for dx, dy in [(0, -11), (10, -4), (7, 8), (-7, 8), (-10, -4)]:
    layers.append(alt.Chart(logo_df).mark_point(shape="circle", filled=True, color="#FFFFFF", size=55, opacity=1).encode(
        x=alt.value(1313 + dx - OFF), y=alt.value(986 + dy - OFF)))
layers.append(T("天风证券", 1334, 985, 16, color="#FFFFFF", weight="bold"))
layers.append(T("TF SECURITIES", 1334, 1000, 6, color="#FFFFFF"))
layers.append(T("7", 1487, 986, 22, color="#FFFFFF", align="center"))

chart = alt.layer(*layers).resolve_scale(x="independent", y="independent").properties(
    width=W, height=H, padding=0, autosize=alt.AutoSizeParams(type="none"), background="#FFFFFF"
).configure_view(strokeWidth=0)

chart.save("out.html", embed_options={"renderer": "svg", "actions": False})
